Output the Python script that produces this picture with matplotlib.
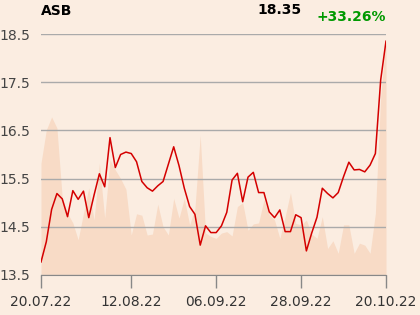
import matplotlib
matplotlib.use("Agg")
import matplotlib.pyplot as plt
import numpy as np

# Price series (trading days 20.07.22 .. 20.10.22)
price = [13.77, 14.19, 14.86, 15.19, 15.08, 14.71, 15.25, 15.07, 15.24, 14.69,
         15.16, 15.60, 15.33, 16.35, 15.73, 16.00, 16.05, 16.02, 15.85, 15.44,
         15.31, 15.24, 15.35, 15.44, 15.80, 16.16, 15.77, 15.30, 14.92, 14.76,
         14.12, 14.52, 14.38, 14.38, 14.52, 14.80, 15.47, 15.61, 15.02, 15.53,
         15.63, 15.21, 15.21, 14.81, 14.69, 14.85, 14.40, 14.40, 14.75, 14.69,
         14.00, 14.37, 14.70, 15.30, 15.19, 15.10, 15.21, 15.54, 15.84, 15.68,
         15.69, 15.64, 15.78, 16.02, 17.55, 18.35]

# Background area series (in price-axis units)
area = [15.82, 16.51, 16.78, 16.55, 15.10, 14.78, 14.58, 14.23, 14.78, 15.31,
        14.64, 15.82, 14.68, 15.89, 15.68, 15.50, 15.28, 14.33, 14.77, 14.74,
        14.33, 14.35, 14.97, 14.50, 14.33, 15.09, 14.68, 15.09, 14.54, 14.88,
        16.40, 14.37, 14.30, 14.26, 14.37, 14.40, 14.31, 14.92, 15.00, 14.43,
        14.56, 14.58, 15.06, 14.75, 14.64, 14.26, 14.71, 15.21, 14.57, 14.54,
        14.64, 14.35, 14.26, 14.71, 14.05, 14.21, 13.95, 14.54, 14.54, 13.95,
        14.16, 14.12, 13.95, 14.78, 17.20, 18.40]

tick_idx = [0, 17, 33, 49, 65]
tick_labels = ["20.07.22", "12.08.22", "06.09.22", "28.09.22", "20.10.22"]
y_ticks = [13.5, 14.5, 15.5, 16.5, 17.5, 18.5]
y_labels = ["13.5", "14.5", "15.5", "16.5", "17.5", "18.5"]

title = "ASB"
last_price = "18.35"
change = "+33.26%"

bg = "#FBEDE1"
fig = plt.figure(figsize=(4.2, 3.15), dpi=100, facecolor=bg)
ax = fig.add_axes([41/420, 1-275/315, 345/420, 241/315], facecolor=bg)

x = np.arange(len(price))
ax.fill_between(x, 13.5, area, color="#F8DBC6", lw=0, zorder=1)
ax.plot(x, price, color="#D40000", lw=1.1, zorder=3)

ax.set_xlim(0, len(price) - 1)
ax.set_ylim(13.5, 18.5)
ax.set_yticks(y_ticks)
ax.set_yticklabels(y_labels)
ax.set_xticks(tick_idx)
ax.set_xticklabels(tick_labels)
ax.grid(axis="y", color="#AAAAAA", lw=1, zorder=2)
ax.set_axisbelow(False)
for s in ["top", "right", "left"]:
    ax.spines[s].set_visible(False)
ax.spines["bottom"].set_color("#888888")
ax.tick_params(axis="y", length=0, pad=8, labelsize=10, labelcolor="#444444")
ax.tick_params(axis="x", length=9.5, width=1, color="#888888", pad=5,
               labelsize=10, labelcolor="#333333")

fig.text(41/420, 1-11/315, title, fontsize=10, fontweight="bold", color="#000000",
         ha="left", va="center")
fig.text(302/420, 1-10/315, last_price, fontsize=10, fontweight="bold",
         color="#000000", ha="right", va="center")
fig.text(386/420, 1-17/315, change, fontsize=10, fontweight="bold",
         color="#009900", ha="right", va="center")

fig.savefig("out.png", dpi=100, facecolor=bg)
